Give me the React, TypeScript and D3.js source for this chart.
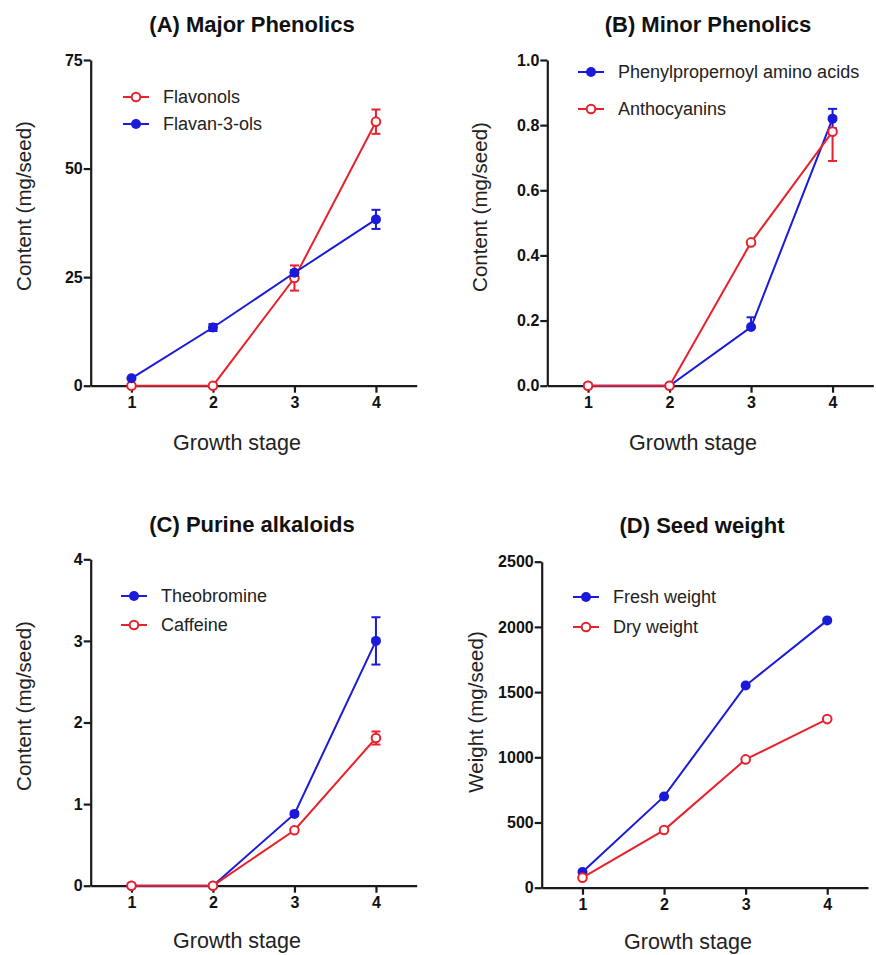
import { useEffect, useRef } from 'react';
import * as d3 from 'd3';

// growth stages shared by every panel
const stages = [1, 2, 3, 4];

// (A) Major Phenolics
const flavonols = [0, 0, 24.8, 60.8];
const flavonolsErr = [0, 0, 2.9, 2.8];
const flavan3ols = [1.7, 13.4, 26.0, 38.3];
const flavan3olsErr = [0, 0.8, 0.6, 2.2];
const ticksA = [0, 25, 50, 75];

// (B) Minor Phenolics
const phenylAmino = [0, 0, 0.18, 0.82];
const phenylAminoErrUp = [0, 0, 0.03, 0.03];
const phenylAminoErrDown = [0, 0, 0, 0.03];
const anthocyanins = [0, 0, 0.44, 0.78];
const anthocyaninsErrDown = [0, 0, 0, 0.09];
const anthocyaninsErrUp = [0, 0, 0, 0];
const ticksB = [0, 0.2, 0.4, 0.6, 0.8, 1.0];

// (C) Purine alkaloids
const theobromine = [0, 0, 0.88, 3.0];
const theobromineErr = [0, 0, 0.02, 0.29];
const caffeine = [0, 0, 0.68, 1.81];
const caffeineErr = [0, 0, 0.02, 0.08];
const ticksC = [0, 1, 2, 3, 4];

// (D) Seed weight
const freshWeight = [120, 700, 1550, 2050];
const dryWeight = [77, 442, 984, 1293];
const ticksD = [0, 500, 1000, 1500, 2000, 2500];

const RED = '#e8212b';
const BLUE = '#1a1ad8';
const AXIS = '#1a1a1a';
const FONT = '"Liberation Sans", Arial, Helvetica, sans-serif';

type Series = {
  name: string;
  values: number[];
  errUp?: number[];
  errDown?: number[];
  color: string;
  open: boolean;
};

type PanelCfg = {
  title: string;
  titleX: number;
  titleY: number;
  yLabel: string;
  yLabelX: number;
  yLabelY: number;
  xLabelX: number;
  xLabelY: number;
  x0: number;
  x1: number;
  y0: number;
  y1: number;
  yMax: number;
  ticks: number[];
  fmt: (v: number) => string;
  legendX: number;
  legendY: number[];
  series: Series[];
};

const panels: PanelCfg[] = [
  {
    title: '(A) Major Phenolics', titleX: 252, titleY: 32,
    yLabel: 'Content (mg/seed)', yLabelX: 31, yLabelY: 206,
    xLabelX: 237, xLabelY: 450,
    x0: 90.7, x1: 416.7, y0: 385.7, y1: 60, yMax: 75,
    ticks: ticksA, fmt: d3.format('d'),
    legendX: 123, legendY: [97, 124],
    series: [
      { name: 'Flavonols', values: flavonols, errUp: flavonolsErr, errDown: flavonolsErr, color: RED, open: true },
      { name: 'Flavan-3-ols', values: flavan3ols, errUp: flavan3olsErr, errDown: flavan3olsErr, color: BLUE, open: false },
    ],
  },
  {
    title: '(B) Minor Phenolics', titleX: 708, titleY: 32,
    yLabel: 'Content (mg/seed)', yLabelX: 487, yLabelY: 207,
    xLabelX: 693, xLabelY: 450,
    x0: 547.3, x1: 873.3, y0: 385.7, y1: 60, yMax: 1,
    ticks: ticksB, fmt: d3.format('.1f'),
    legendX: 578, legendY: [72, 109],
    series: [
      { name: 'Phenylpropernoyl amino acids', values: phenylAmino, errUp: phenylAminoErrUp, errDown: phenylAminoErrDown, color: BLUE, open: false },
      { name: 'Anthocyanins', values: anthocyanins, errUp: anthocyaninsErrUp, errDown: anthocyaninsErrDown, color: RED, open: true },
    ],
  },
  {
    title: '(C) Purine alkaloids', titleX: 252, titleY: 532,
    yLabel: 'Content (mg/seed)', yLabelX: 31, yLabelY: 706,
    xLabelX: 237, xLabelY: 948,
    x0: 90.7, x1: 416.7, y0: 885.7, y1: 559.3, yMax: 4,
    ticks: ticksC, fmt: d3.format('d'),
    legendX: 121, legendY: [596, 625],
    series: [
      { name: 'Theobromine', values: theobromine, errUp: theobromineErr, errDown: theobromineErr, color: BLUE, open: false },
      { name: 'Caffeine', values: caffeine, errUp: caffeineErr, errDown: caffeineErr, color: RED, open: true },
    ],
  },
  {
    title: '(D) Seed weight', titleX: 702, titleY: 533,
    yLabel: 'Weight (mg/seed)', yLabelX: 483, yLabelY: 712,
    xLabelX: 688, xLabelY: 949,
    x0: 541.7, x1: 868, y0: 887.7, y1: 561.7, yMax: 2500,
    ticks: ticksD, fmt: d3.format('d'),
    legendX: 573, legendY: [597, 627],
    series: [
      { name: 'Fresh weight', values: freshWeight, color: BLUE, open: false },
      { name: 'Dry weight', values: dryWeight, color: RED, open: true },
    ],
  },
];

const App = () => {
  const svgRef = useRef<SVGSVGElement>(null);

  useEffect(() => {
    const svg = d3.select(svgRef.current);
    svg.selectAll('*').remove();

    panels.forEach((p) => {
      const g = svg.append('g');

      const x = d3.scaleLinear().domain([0.5, 4.5]).range([p.x0, p.x1]);
      const y = d3.scaleLinear().domain([0, p.yMax]).range([p.y0, p.y1]);

      // axes
      const xAxis = g.append('g')
        .attr('transform', `translate(0,${p.y0})`)
        .call(d3.axisBottom(x).tickValues(stages).tickFormat(d3.format('d')).tickSize(7).tickSizeOuter(0).tickPadding(4));
      const yAxis = g.append('g')
        .attr('transform', `translate(${p.x0},0)`)
        .call(d3.axisLeft(y).tickValues(p.ticks).tickFormat(p.fmt as any).tickSize(7).tickSizeOuter(0).tickPadding(1));

      [xAxis, yAxis].forEach((a) => {
        a.select('.domain').attr('stroke', AXIS).attr('stroke-width', 2.2);
        a.selectAll('.tick line').attr('stroke', AXIS).attr('stroke-width', 2.2);
        a.selectAll('.tick text')
          .attr('fill', '#111')
          .attr('font-family', FONT)
          .attr('font-weight', 'bold')
          .attr('font-size', 16);
      });

      // titles
      g.append('text')
        .attr('x', p.titleX).attr('y', p.titleY)
        .attr('text-anchor', 'middle')
        .attr('font-family', FONT).attr('font-weight', 'bold').attr('font-size', 22)
        .attr('fill', '#111')
        .text(p.title);

      g.append('text')
        .attr('x', p.xLabelX).attr('y', p.xLabelY)
        .attr('text-anchor', 'middle')
        .attr('font-family', FONT).attr('font-size', 21.5)
        .attr('fill', '#222')
        .text('Growth stage');

      g.append('text')
        .attr('transform', `translate(${p.yLabelX},${p.yLabelY}) rotate(-90)`)
        .attr('text-anchor', 'middle')
        .attr('font-family', FONT).attr('font-size', 20.5)
        .attr('fill', '#222')
        .text(p.yLabel);

      const line = d3.line<number>()
        .x((_, i) => x(stages[i]))
        .y((d) => y(d));

      // series, later ones on top
      p.series.forEach((s) => {
        const sg = g.append('g');

        // error bars
        stages.forEach((st, i) => {
          const up = s.errUp ? s.errUp[i] : 0;
          const down = s.errDown ? s.errDown[i] : 0;
          const cx = x(st);
          const v = s.values[i];
          if (up > 0) {
            sg.append('line').attr('x1', cx).attr('x2', cx)
              .attr('y1', y(v)).attr('y2', y(v + up))
              .attr('stroke', s.color).attr('stroke-width', 2);
            sg.append('line').attr('x1', cx - 4.5).attr('x2', cx + 4.5)
              .attr('y1', y(v + up)).attr('y2', y(v + up))
              .attr('stroke', s.color).attr('stroke-width', 2);
          }
          if (down > 0) {
            sg.append('line').attr('x1', cx).attr('x2', cx)
              .attr('y1', y(v)).attr('y2', y(v - down))
              .attr('stroke', s.color).attr('stroke-width', 2);
            sg.append('line').attr('x1', cx - 4.5).attr('x2', cx + 4.5)
              .attr('y1', y(v - down)).attr('y2', y(v - down))
              .attr('stroke', s.color).attr('stroke-width', 2);
          }
        });

        sg.append('path')
          .datum(s.values)
          .attr('d', line)
          .attr('fill', 'none')
          .attr('stroke', s.color)
          .attr('stroke-width', 2);

        sg.selectAll('circle')
          .data(s.values)
          .join('circle')
          .attr('cx', (_, i) => x(stages[i]))
          .attr('cy', (d) => y(d))
          .attr('r', s.open ? 4.3 : 5)
          .attr('fill', s.open ? '#fff' : s.color)
          .attr('stroke', s.color)
          .attr('stroke-width', s.open ? 2 : 0);
      });

      // legend
      p.series.forEach((s, i) => {
        const ly = p.legendY[i];
        const lg = g.append('g');
        lg.append('line')
          .attr('x1', p.legendX).attr('x2', p.legendX + 26)
          .attr('y1', ly).attr('y2', ly)
          .attr('stroke', s.color).attr('stroke-width', 2);
        lg.append('circle')
          .attr('cx', p.legendX + 13).attr('cy', ly)
          .attr('r', s.open ? 4.3 : 5)
          .attr('fill', s.open ? '#fff' : s.color)
          .attr('stroke', s.color)
          .attr('stroke-width', s.open ? 2 : 0);
        lg.append('text')
          .attr('x', p.legendX + 40).attr('y', ly)
          .attr('dy', '0.35em')
          .attr('font-family', FONT).attr('font-size', 18)
          .attr('fill', '#222')
          .text(s.name);
      });
    });
  }, []);

  return (
    <svg
      ref={svgRef}
      width={876}
      height={955}
      style={{ position: 'absolute', left: 0, top: 0, background: '#fff' }}
    />
  );
};

export default App;
